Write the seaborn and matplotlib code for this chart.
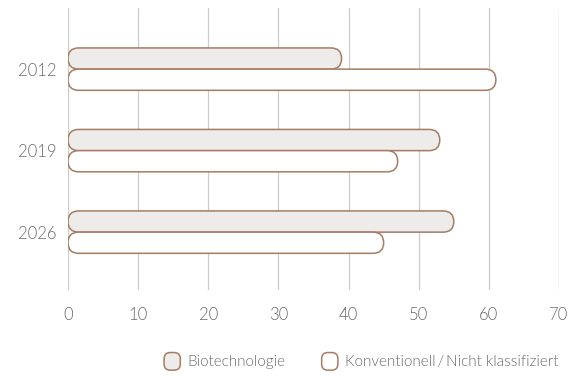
import matplotlib
matplotlib.use("Agg")
import matplotlib.pyplot as plt
import seaborn as sns
import pandas as pd
from matplotlib.patches import FancyBboxPatch
from matplotlib.legend_handler import HandlerPatch

years = ["2012", "2019", "2026"]
bio = [39, 53, 55]
konv = [61, 47, 45]
series = ["Biotechnologie", "Konventionell\u2009/\u2009Nicht klassifiziert"]

df = pd.DataFrame({
    "Jahr": years * 2,
    "Wert": bio + konv,
    "Art": [series[0]] * 3 + [series[1]] * 3,
})

sns.set_style("white")
plt.rcParams["font.family"] = ["Lato", "DejaVu Sans"]

edge = "#a57c62"
txt = "#6a6a6a"
fills = {series[0]: "#eeebeb", series[1]: "#ffffff"}

fig = plt.figure(figsize=(5.82, 3.76), dpi=100)
ax = fig.add_axes([68 / 582, 86 / 376, 491 / 582, 282 / 376])
sns.barplot(data=df, x="Wert", y="Jahr", hue="Art", orient="h",
            palette=fills, width=0.52, ax=ax, legend=False)

ax.set_xlim(0, 70)
ax.set_ylim(2.71, -0.75)

# swap the square bars for rounded ones
xpx = ax.transData.transform((1, 0))[0] - ax.transData.transform((0, 0))[0]
ypx = abs(ax.transData.transform((0, 1))[1] - ax.transData.transform((0, 0))[1])
aspect = xpx / ypx
old = list(ax.patches)
for p in old:
    x, y = p.get_x(), p.get_y()
    w, h = p.get_width(), p.get_height()
    fc = p.get_facecolor()
    p.remove()
    r = h / 2 / aspect
    ax.add_patch(FancyBboxPatch((x, y), w, h,
                                boxstyle=f"round,pad=0,rounding_size={r}",
                                mutation_aspect=aspect, facecolor=fc,
                                edgecolor=edge, linewidth=1.1, zorder=3))

ax.set_xticks(range(0, 71, 10))
ax.grid(axis="x", color="#cccccc", linewidth=0.9)
ax.grid(axis="y", visible=False)
for s in ax.spines.values():
    s.set_visible(False)
ax.tick_params(axis="x", length=0, pad=12, labelsize=12, labelcolor=txt)
ax.tick_params(axis="y", length=0, pad=8, labelsize=12, labelcolor=txt)
for t in ax.get_xticklabels() + ax.get_yticklabels():
    t.set_fontweight(300)
ax.set_xlabel("")
ax.set_ylabel("")


class RoundHandler(HandlerPatch):
    def create_artists(self, legend, orig_handle, xdescent, ydescent,
                       width, height, fontsize, trans):
        p = FancyBboxPatch((-xdescent, -ydescent - 3), height + 4, height + 5,
                           boxstyle="round,pad=0,rounding_size=4.5",
                           facecolor=orig_handle.get_facecolor(),
                           edgecolor=edge, linewidth=1.1, transform=trans)
        return [p]


handles = [FancyBboxPatch((0, 0), 1, 1, facecolor=fills[s], edgecolor=edge) for s in series]
leg = fig.legend(handles, series, loc="center", bbox_to_anchor=(361 / 582, 1 - 362 / 376),
                 ncol=2, frameon=False, handler_map={FancyBboxPatch: RoundHandler()},
                 handlelength=1.05, handletextpad=0.45, columnspacing=2.4,
                 prop={"size": 11, "weight": 300})
for t in leg.get_texts():
    t.set_color(txt)

fig.savefig("out.png", dpi=100)
